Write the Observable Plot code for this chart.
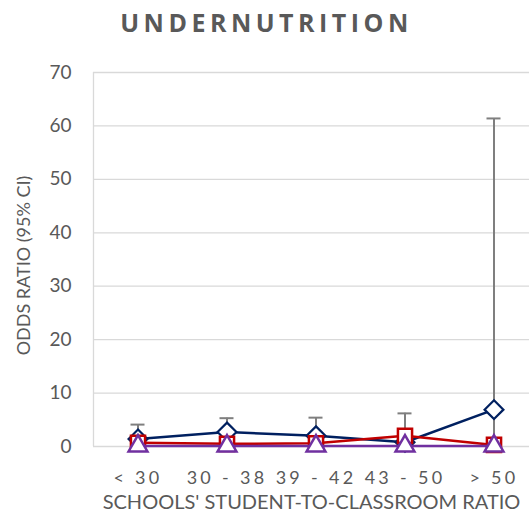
<!DOCTYPE html>
<html><head><meta charset="utf-8">
<script src="https://cdn.jsdelivr.net/npm/d3@7"></script>
<script src="https://cdn.jsdelivr.net/npm/@observablehq/plot@0.6"></script>
<style>
body{margin:0;background:#fff;font-family:Lato,sans-serif;}
#title{height:50px;width:529px;text-align:center;font:bold 25px "Open Sans",sans-serif;letter-spacing:4.5px;color:#595959;line-height:44px;padding-left:4px;box-sizing:border-box;}
#chart svg{overflow:visible}
g[aria-label="x-axis tick label"] text{letter-spacing:3.3px}
</style></head>
<body>
<div id="title">UNDERNUTRITION</div>
<div id="chart"></div>
<script>
const categories = ["< 30", "30 - 38", "39 - 42", "43 - 50", "> 50"];
const blueValues = [1.4, 2.7, 2.0, 0.8, 6.9];
const blueLower = [0.3, 0.9, 0.6, 0.1, 0.2];
const blueUpper = [4.1, 5.3, 5.4, 6.2, 61.4];
const redValues = [0.7, 0.5, 0.6, 2.0, 0.3];
const purpleValues = [0.1, 0.1, 0.1, 0.1, 0.1];
const yTicks = [0, 10, 20, 30, 40, 50, 60, 70];

const blue = categories.map((c, i) => ({cat: c, v: blueValues[i], lo: blueLower[i], hi: blueUpper[i]}));
const red = categories.map((c, i) => ({cat: c, v: redValues[i]}));
const purple = categories.map((c, i) => ({cat: c, v: purpleValues[i]}));

const chart = Plot.plot({
  width: 529,
  height: 472,
  marginLeft: 93,
  marginRight: -9,
  marginTop: 22,
  marginBottom: 76,
  style: {fontFamily: "Lato, sans-serif", color: "#595959", background: "transparent"},
  x: {type: "band", domain: categories, padding: 0, label: null},
  y: {domain: [0, 70], ticks: yTicks, label: null},
  marks: [
    Plot.gridY(yTicks, {stroke: "#d9d9d9", strokeOpacity: 1, strokeWidth: 1.3}),
    Plot.ruleX([0], {x: () => categories[0], stroke: "#d9d9d9", strokeWidth: 1.3, dx: -44.5, y1: 0, y2: 70}),
    Plot.axisY({ticks: yTicks, tickSize: 0, tickPadding: 22, fontSize: 19, fill: "#595959"}),
    Plot.text(["ODDS RATIO (95% CI)"], {frameAnchor: "left", textAnchor: "middle", dx: -69, dy: 6, rotate: -90, fontSize: 18, fill: "#595959"}),
    Plot.axisX({tickSize: 0, tickPadding: 25, fontSize: 18, fill: "#595959"}),
    Plot.text(["SCHOOLS' STUDENT-TO-CLASSROOM RATIO"], {frameAnchor: "bottom", dy: 62, dx: -4.5, fontSize: 20, fill: "#595959"}),
    Plot.ruleX(blue, {x: "cat", y1: "lo", y2: "hi", stroke: "#7f7f7f", strokeWidth: 2}),
    Plot.tickY(blue, {x: "cat", y: "hi", stroke: "#7f7f7f", strokeWidth: 2, insetLeft: 37.5, insetRight: 37.5}),
    Plot.line(blue, {x: "cat", y: "v", stroke: "#002060", strokeWidth: 2.5}),
    Plot.dot(blue, {x: "cat", y: "v", symbol: "diamond2", r: 8.5, stroke: "#002060", strokeWidth: 2.2, fill: "white"}),
    Plot.line(red, {x: "cat", y: "v", stroke: "#c00000", strokeWidth: 2.5}),
    Plot.dot(red, {x: "cat", y: "v", symbol: "square2", r: 9, stroke: "#c00000", strokeWidth: 2.5, fill: "white"}),
    Plot.line(purple, {x: "cat", y: "v", stroke: "#7030a0", strokeWidth: 2.5}),
    Plot.dot(purple, {x: "cat", y: "v", symbol: "triangle2", r: 9, stroke: "#7030a0", strokeWidth: 2.5, fill: "white"})
  ]
});
document.getElementById("chart").appendChild(chart);
</script>
</body></html>
